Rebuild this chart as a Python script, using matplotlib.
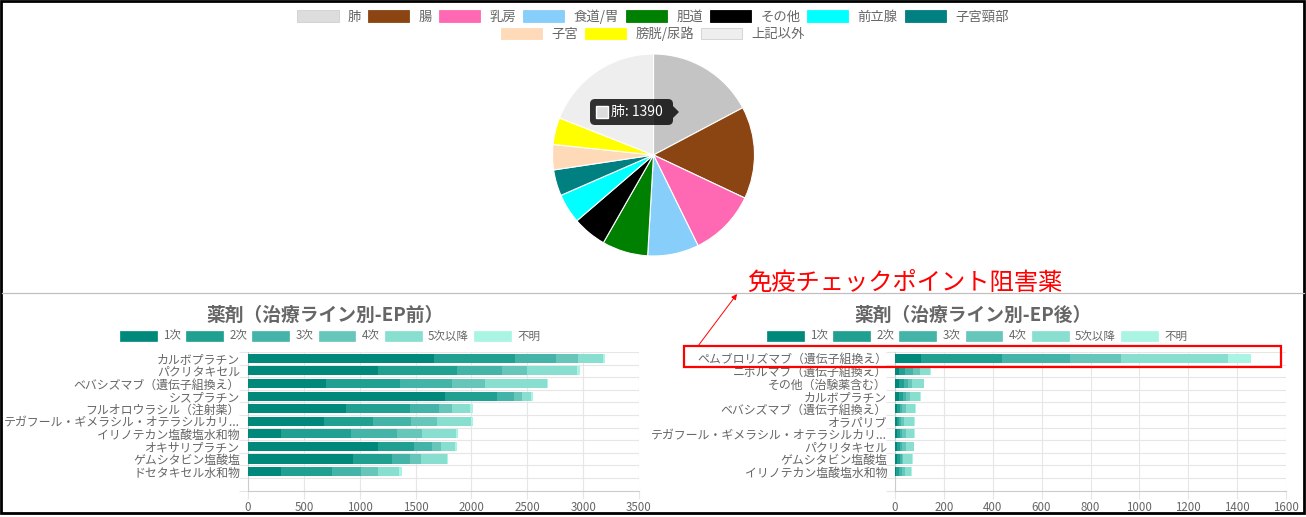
import matplotlib
matplotlib.use('Agg')
import matplotlib.pyplot as plt
from matplotlib.patches import Rectangle, FancyBboxPatch, Patch, Polygon
import numpy as np

plt.rcParams['font.family'] = ['Noto Sans CJK JP', 'DejaVu Sans']

W, H = 1306, 517

# ---------------- data ----------------
pie_labels = ['肺', '腸', '乳房', '食道/胃', '胆道', 'その他', '前立腺', '子宮頸部',
              '子宮', '膀胱/尿路', '上記以外']
pie_values = [1390, 1189, 864, 660, 591, 439, 383, 336, 325, 347, 1533]
pie_colors = ['#dddddd', '#8B4513', '#FF69B4', '#87CEFA', '#008000', '#000000',
              '#00FFFF', '#008080', '#FFDAB9', '#FFFF00', '#EEEEEE']
hover_color = '#c4c4c4'

line_labels = ['1次', '2次', '3次', '4次', '5次以降', '不明']
line_colors = ['#00897B', '#20A090', '#45B4A8', '#66C6BA', '#88DFD0', '#AAF4E4']

before_title = '薬剤（治療ライン別-EP前）'
before_drugs = ['カルボプラチン', 'パクリタキセル', 'ベバシズマブ（遺伝子組換え）', 'シスプラチン',
                'フルオロウラシル（注射薬）', 'テガフール・ギメラシル・オテラシルカリ...',
                'イリノテカン塩酸塩水和物', 'オキサリプラチン', 'ゲムシタビン塩酸塩', 'ドセタキセル水和物']
before_1st = [1662, 1160, 695, 1766, 877, 677, 294, 1160, 944, 294]
before_2nd = [724, 713, 662, 464, 573, 438, 624, 327, 346, 457]
before_3rd = [372, 402, 472, 149, 260, 342, 420, 156, 160, 260]
before_4th = [197, 223, 290, 71, 119, 231, 223, 85, 100, 156]
before_5th = [219, 446, 557, 85, 160, 308, 305, 127, 227, 186]
before_unk = [23, 30, 5, 19, 29, 19, 15, 15, 15, 26]
before_ticks = [0, 500, 1000, 1500, 2000, 2500, 3000, 3500]

after_title = '薬剤（治療ライン別-EP後）'
after_drugs = ['ペムブロリズマブ（遺伝子組換え）', 'ニボルマブ（遺伝子組換え）', 'その他（治験薬含む）',
               'カルボプラチン', 'ベバシズマブ（遺伝子組換え）', 'オラパリブ',
               'テガフール・ギメラシル・オテラシルカリ...', 'パクリタキセル', 'ゲムシタビン塩酸塩',
               'イリノテカン塩酸塩水和物']
after_1st = [106, 16, 16, 16, 10, 8, 8, 8, 8, 5]
after_2nd = [331, 24, 21, 17, 12, 7, 11, 11, 11, 10]
after_3rd = [281, 34, 16, 13, 8, 8, 8, 11, 8, 12]
after_4th = [207, 30, 18, 17, 16, 12, 17, 14, 6, 13]
after_5th = [437, 38, 46, 41, 37, 44, 34, 32, 37, 27]
after_unk = [93, 5, 3, 1, 2, 2, 2, 2, 2, 2]
after_ticks = [0, 200, 400, 600, 800, 1000, 1200, 1400, 1600]

n_slots = 11
annotation_text = '免疫チェックポイント阻害薬'

# ---------------- helpers ----------------
TXT = '#666666'
GRID = '#e6e6e6'
PX = 72.0 / 100.0  # points per pixel


def rect(x0, y0, x1, y1):
    return [x0 / W, 1 - y1 / H, (x1 - x0) / W, (y1 - y0) / H]


fig = plt.figure(figsize=(W / 100, H / 100), dpi=100)
fig.patch.set_facecolor('white')

# ---------------- pie ----------------
cx, cy, r = 653.5, 155, 102
pax = fig.add_axes(rect(cx - r, cy - r, cx + r, cy + r))
draw_colors = [hover_color] + pie_colors[1:]
pax.pie(pie_values, colors=draw_colors, startangle=90, counterclock=False, radius=1,
        wedgeprops=dict(edgecolor='white', linewidth=0.8))
pax.set_xlim(-1.01, 1.01)
pax.set_ylim(-1.01, 1.01)
pax.set_aspect('equal')
pax.axis('off')

pie_handles = [Patch(facecolor=c, edgecolor='#d0d0d0' if c in ('#dddddd', '#EEEEEE') else c,
                     linewidth=0.6) for c in pie_colors]
leg_kw = dict(loc='center', frameon=False, fontsize=9.6, handlelength=3.1,
              handleheight=0.95, handletextpad=0.7, columnspacing=0.5, borderpad=0,
              labelcolor=TXT)
fig.legend(pie_handles[:8], pie_labels[:8], ncol=8,
           bbox_to_anchor=(653 / W, 1 - 16.5 / H), **leg_kw)
fig.legend(pie_handles[8:], pie_labels[8:], ncol=3,
           bbox_to_anchor=(653 / W, 1 - 34 / H), **leg_kw)


# ---------------- bar charts ----------------
def bar_chart(box, drugs, series, ticks, title, title_x, legend_x):
    ax = fig.add_axes(rect(*box))
    y = np.arange(len(drugs))
    left = np.zeros(len(drugs))
    for vals, col in zip(series, line_colors):
        ax.barh(y, vals, left=left, height=0.72, color=col, linewidth=0, zorder=3)
        left = left + np.array(vals)
    ax.set_xlim(ticks[0], ticks[-1])
    ax.set_ylim(n_slots - 0.5, -0.5)
    ax.set_xticks(ticks)
    ax.set_xticklabels([str(t) for t in ticks], fontsize=8.3, color=TXT)
    ax.set_yticks(np.arange(-0.5, n_slots, 1.0))
    ax.set_yticklabels([])
    ax.set_yticks(y, minor=True)
    ax.set_yticklabels(drugs, minor=True, fontsize=8.6, color=TXT)
    ax.tick_params(axis='y', which='minor', length=0, pad=8 * PX)
    ax.tick_params(axis='y', which='major', length=9 * PX, color=GRID, width=0.8)
    ax.tick_params(axis='x', length=8 * PX, color=GRID, width=0.8, pad=1.5)
    ax.grid(True, which='major', color=GRID, linewidth=0.8, zorder=0)
    ax.set_axisbelow(True)
    for s in ('top', 'right'):
        ax.spines[s].set_visible(False)
    for s in ('left', 'bottom'):
        ax.spines[s].set_color('#cccccc')
        ax.spines[s].set_linewidth(0.8)
    fig.text(title_x / W, 1 - 315 / H, title, ha='center', va='center', fontsize=13.5,
             fontweight='bold', color=TXT)
    handles = [Patch(facecolor=c, edgecolor=c, linewidth=0.5) for c in line_colors]
    fig.legend(handles, line_labels, ncol=6, loc='center',
               bbox_to_anchor=(legend_x / W, 1 - 336 / H), frameon=False, fontsize=8.3,
               handlelength=3.2, handleheight=0.95, handletextpad=0.55,
               columnspacing=0.45, borderpad=0, labelcolor=TXT)
    return ax


bar_chart((248, 352, 639, 490.5), before_drugs,
          [before_1st, before_2nd, before_3rd, before_4th, before_5th, before_unk],
          before_ticks, before_title, 325, 330)
bar_chart((895, 352, 1286, 490.5), after_drugs,
          [after_1st, after_2nd, after_3rd, after_4th, after_5th, after_unk],
          after_ticks, after_title, 973, 977)

# ---------------- overlay (pixel coordinates) ----------------
ov = fig.add_axes([0, 0, 1, 1], zorder=10)
ov.set_xlim(0, W)
ov.set_ylim(H, 0)
ov.axis('off')
ov.patch.set_alpha(0)

# separator line
ov.plot([2, W - 2], [293, 293], color='#c0c0c0', linewidth=0.9)

# outer frame
ov.add_patch(Rectangle((1, 1), W - 3, 512, fill=False, edgecolor='black', linewidth=2.0))

# tooltip
ov.add_patch(FancyBboxPatch((590, 99), 83, 26, boxstyle='round,pad=0,rounding_size=5',
                            facecolor=(0, 0, 0, 0.8), edgecolor='none'))
ov.add_patch(Polygon([(673, 106), (679, 112), (673, 118)], closed=True,
                     facecolor=(0, 0, 0, 0.8), edgecolor='none'))
ov.add_patch(Rectangle((596, 105.5), 12, 12, facecolor=pie_colors[0], edgecolor='white',
                       linewidth=1))
ov.text(611, 112, f'{pie_labels[0]}: {pie_values[0]}', color='white', fontsize=10,
        ha='left', va='center')

# red annotation
ov.add_patch(Rectangle((684, 346), 597, 21, fill=False, edgecolor='#ff0000', linewidth=1.6))
ov.annotate('', xy=(737, 294), xytext=(698, 346),
            arrowprops=dict(arrowstyle='-|>', color='#ff0000', lw=0.7,
                            mutation_scale=8, shrinkA=0, shrinkB=0))
ov.text(747, 283, annotation_text, color='#ff0000', fontsize=17.5, ha='left', va='center')

fig.savefig('out.png', dpi=100, facecolor='white')
